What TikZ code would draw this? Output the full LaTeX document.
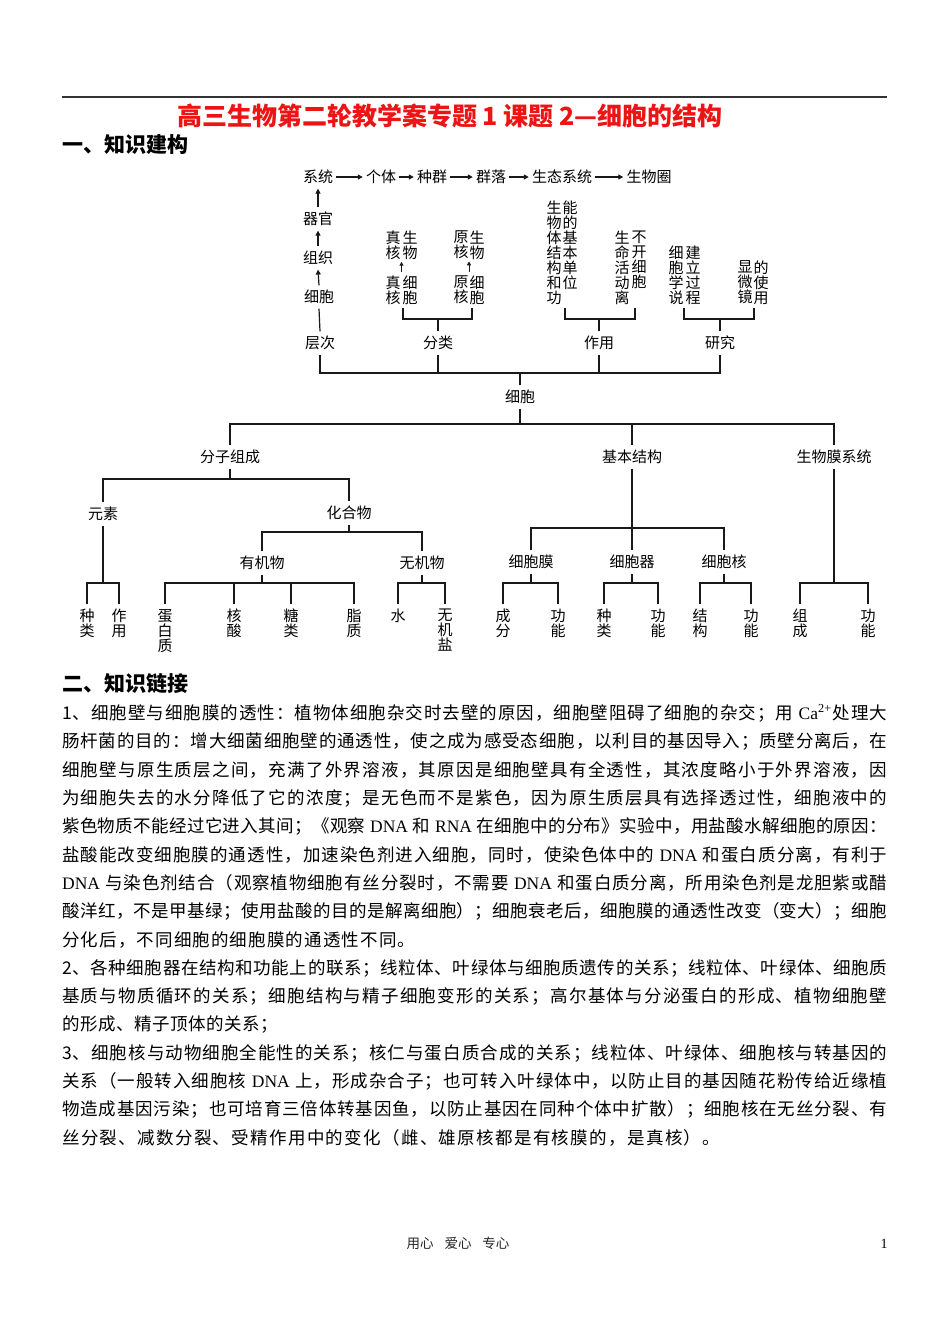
\documentclass[tikz,border=0pt]{standalone}
\usepackage{fontspec}
\setmainfont{Noto Sans CJK SC}
\newfontfamily\lser{Liberation Serif}
\usetikzlibrary{arrows.meta,calc}
\hbadness=10000
\definecolor{titlered}{RGB}{236,20,20}
\newcommand\dgfont{\fontsize{15}{15}\selectfont\lineskiplimit=-10pt\lineskip=0pt\relax}
\newcommand\bdfont{\fontsize{17.5}{20}\selectfont}
\newcommand\hdfont{\fontsize{21}{24}\selectfont\bfseries}
\newcommand\lat[1]{{\lser #1}}
\makeatletter
\newcommand\spreadto[2]{\hbox to #1{\@tfor\sp@x:=#2\do{\sp@x\hskip 0pt plus 1fil}\unskip}}
\makeatother
\newcommand\fullline[1]{\spreadto{825pt}{#1}}
\tikzset{
  lbl/.style={inner xsep=3pt, inner ysep=4.5pt, font=\dgfont},
  tcol/.style={inner sep=0pt, anchor=north, align=center, font=\dgfont},
  leaf/.style={inner xsep=0pt, inner ysep=5pt, anchor=north, align=center, font=\dgfont},
  conn/.style={line width=1.2pt, draw=black!90},
  arr/.style={conn, -{Triangle[length=5pt, width=5pt]}},
  sarr/.style={conn, line width=1pt, -{Triangle[length=4pt, width=4pt]}},
  body/.style={anchor=west, inner sep=0pt, font=\bdfont},
  head/.style={anchor=west, inner sep=0pt, font=\hdfont},
}
\begin{document}
\begin{tikzpicture}[x=1pt,y=-1pt]
\fill[white] (0,0) rectangle (950,1342);
\useasboundingbox (0,0) rectangle (950,1342);
% top rule and title
\draw[line width=1.6pt, draw=black!80] (62,97) -- (887,97);
\node[inner sep=0pt, font=\fontsize{25}{28}\selectfont\bfseries, text=titlered] (title) at (450,116) {高三生物第二轮教学案专题 1 课题 2—细胞的结构};
\node[head] (h1) at (62,145) {一、知识建构};

% ---- upper chain ----
\node[lbl] (xitong) at (318,177) {系统};
\node[lbl] (geti) at (381,177) {个体};
\node[lbl] (zhongqun) at (432,177) {种群};
\node[lbl] (qunluo) at (491,177) {群落};
\node[lbl] (shengtai) at (562,177) {生态系统};
\node[lbl] (shengwuquan) at (649,177) {生物圈};
\draw[arr] (xitong) -- (geti);
\draw[arr] (geti) -- (zhongqun);
\draw[arr] (zhongqun) -- (qunluo);
\draw[arr] (qunluo) -- (shengtai);
\draw[arr] (shengtai) -- (shengwuquan);

\node[lbl] (qiguan) at (318,219) {器官};
\node[lbl] (zuzhi) at (318,258) {组织};
\node[lbl] (xb0) at (319,297) {细胞};
\draw[arr] (qiguan.north) -- (xitong.south);
\draw[arr] (zuzhi.north) -- (qiguan.south);
\draw[arr] (xb0.north) -- (zuzhi.south);
\node[lbl] (cengci) at (320,343) {层次};
\draw[conn] (xb0.south) -- (cengci.north);

% classification blocks
\node[tcol] (zs1) at (393,230.5) {真\\核};
\node[tcol] (zs2) at (410,230.5) {生\\物};
\node[tcol] (zx1) at (393,275.5) {真\\核};
\node[tcol] (zx2) at (410,275.5) {细\\胞};
\node[tcol] (ys1) at (461,230.5) {原\\核};
\node[tcol] (ys2) at (477,230.5) {生\\物};
\node[tcol] (yx1) at (461,275.5) {原\\核};
\node[tcol] (yx2) at (477,275.5) {细\\胞};
\draw[sarr] ($(zx1.north)!.5!(zx2.north)+(0,-4)$) -- ($(zs1.south)!.5!(zs2.south)+(0,2)$);
\draw[sarr] ($(yx1.north)!.5!(yx2.north)+(0,-4)$) -- ($(ys1.south)!.5!(ys2.south)+(0,2)$);

\node[tcol] (sw1) at (554,200.5) {生\\物\\体\\结\\构\\和\\功};
\node[tcol] (sw2) at (570,200.5) {能\\的\\基\\本\\单\\位};
\node[tcol] (sm1) at (622,230.5) {生\\命\\活\\动\\离};
\node[tcol] (sm2) at (639,230.5) {不\\开\\细\\胞};
\node[tcol] (xs1) at (676,245.5) {细\\胞\\学\\说};
\node[tcol] (xs2) at (693,245.5) {建\\立\\过\\程};
\node[tcol] (xw1) at (745,260.5) {显\\微\\镜};
\node[tcol] (xw2) at (761,260.5) {的\\使\\用};

\node[lbl] (fenlei) at (438,343) {分类};
\node[lbl] (zuoyong) at (599,343) {作用};
\node[lbl] (yanjiu) at (720,343) {研究};

\coordinate (bzl) at (403,308); \coordinate (bzr) at (472,308);
\coordinate (bwl) at (565,308); \coordinate (bwr) at (635,308);
\coordinate (byl) at (684,308); \coordinate (byr) at (754,308);
\coordinate (bk) at (0,319);
\draw[conn] (bzl) -- (bzl |- bk) -- (bzr |- bk) -- (bzr);
\draw[conn] (fenlei.north) -- (fenlei.north |- bk);
\draw[conn] (bwl) -- (bwl |- bk) -- (bwr |- bk) -- (bwr);
\draw[conn] (zuoyong.north) -- (zuoyong.north |- bk);
\draw[conn] (byl) -- (byl |- bk) -- (byr |- bk) -- (byr);
\draw[conn] (yanjiu.north) -- (yanjiu.north |- bk);

% ---- cell ----
\node[lbl] (cell) at (520,397) {细胞};
\coordinate (b0) at (0,373);
\draw[conn] (cengci.south) -- (cengci.south |- b0) -- (yanjiu.south |- b0) -- (yanjiu.south);
\draw[conn] (fenlei.south) -- (fenlei.south |- b0);
\draw[conn] (zuoyong.south) -- (zuoyong.south |- b0);
\draw[conn] (cell.north) -- (cell.north |- b0);

\node[lbl] (fzzc) at (230,457) {分子组成};
\node[lbl] (jbjg) at (632,457) {基本结构};
\node[lbl] (swmxt) at (834,457) {生物膜系统};
\coordinate (b1) at (0,424);
\draw[conn] (fzzc.north) -- (fzzc.north |- b1) -- (swmxt.north |- b1) -- (swmxt.north);
\draw[conn] (jbjg.north) -- (jbjg.north |- b1);
\draw[conn] (cell.south) -- (cell.south |- b1);

% molecular composition
\node[lbl] (yuansu) at (103,514) {元素};
\node[lbl] (hhw) at (349,513) {化合物};
\coordinate (b2) at (0,479);
\draw[conn] (yuansu.north) -- (yuansu.north |- b2) -- (hhw.north |- b2) -- (hhw.north);
\draw[conn] (fzzc.south) -- (fzzc.south |- b2);

\node[leaf] (ys_zl) at (87,604) {种\\类};
\node[leaf] (ys_zy) at (119,604) {作\\用};
\coordinate (b3) at (0,583);
\draw[conn] (ys_zl.north) -- (ys_zl.north |- b3) -- (ys_zy.north |- b3) -- (ys_zy.north);
\draw[conn] (yuansu.south) -- (yuansu.south |- b3);

\node[lbl] (yjw) at (262,563) {有机物};
\node[lbl] (wjw) at (422,563) {无机物};
\coordinate (b4) at (0,532);
\draw[conn] (yjw.north) -- (yjw.north |- b4) -- (wjw.north |- b4) -- (wjw.north);
\draw[conn] (hhw.south) -- (hhw.south |- b4);

\node[leaf] (dbz) at (165,604) {蛋\\白\\质};
\node[leaf] (hs) at (234,604) {核\\酸};
\node[leaf] (tl) at (291,604) {糖\\类};
\node[leaf] (zz) at (354,604) {脂\\质};
\draw[conn] (dbz.north) -- (dbz.north |- b3) -- (zz.north |- b3) -- (zz.north);
\draw[conn] (hs.north) -- (hs.north |- b3);
\draw[conn] (tl.north) -- (tl.north |- b3);
\draw[conn] (yjw.south) -- (yjw.south |- b3);

\node[leaf] (shui) at (398,604) {水};
\node[leaf] (wjy) at (445,604) {无\\机\\盐};
\draw[conn] (shui.north) -- (shui.north |- b3) -- (wjy.north |- b3) -- (wjy.north);
\draw[conn] (wjw.south) -- (wjw.south |- b3);

% basic structure
\node[lbl] (xbm) at (531,562) {细胞膜};
\node[lbl] (xbq) at (632,562) {细胞器};
\node[lbl] (xbh) at (724,562) {细胞核};
\coordinate (b5) at (0,528);
\draw[conn] (xbm.north) -- (xbm.north |- b5) -- (xbh.north |- b5) -- (xbh.north);
\draw[conn] (xbq.north) -- (xbq.north |- b5);
\draw[conn] (jbjg.south) -- (jbjg.south |- b5);

\node[leaf] (m_cf) at (503,604) {成\\分};
\node[leaf] (m_gn) at (558,604) {功\\能};
\draw[conn] (m_cf.north) -- (m_cf.north |- b3) -- (m_gn.north |- b3) -- (m_gn.north);
\draw[conn] (xbm.south) -- (xbm.south |- b3);

\node[leaf] (q_zl) at (604,604) {种\\类};
\node[leaf] (q_gn) at (658,604) {功\\能};
\draw[conn] (q_zl.north) -- (q_zl.north |- b3) -- (q_gn.north |- b3) -- (q_gn.north);
\draw[conn] (xbq.south) -- (xbq.south |- b3);

\node[leaf] (h_jg) at (700,604) {结\\构};
\node[leaf] (h_gn) at (751,604) {功\\能};
\draw[conn] (h_jg.north) -- (h_jg.north |- b3) -- (h_gn.north |- b3) -- (h_gn.north);
\draw[conn] (xbh.south) -- (xbh.south |- b3);

\node[leaf] (s_zc) at (800,604) {组\\成};
\node[leaf] (s_gn) at (868,604) {功\\能};
\draw[conn] (s_zc.north) -- (s_zc.north |- b3) -- (s_gn.north |- b3) -- (s_gn.north);
\draw[conn] (swmxt.south) -- (swmxt.south |- b3);

% ---- text part ----
\node[head] (h2) at (62,684) {二、知识链接};
\node[body] (l1) at (62,713) {\fullline{1、细胞壁与细胞膜的透性：植物体细胞杂交时去壁的原因，细胞壁阻碍了细胞的杂交；用{\lat{~Ca}\textsuperscript{\lat{2+}}}处理大}};
\node[body] (l2) at (62,741.3) {\fullline{肠杆菌的目的：增大细菌细胞壁的通透性，使之成为感受态细胞，以利目的基因导入；质壁分离后，在}};
\node[body] (l3) at (62,769.7) {\fullline{细胞壁与原生质层之间，充满了外界溶液，其原因是细胞壁具有全透性，其浓度略小于外界溶液，因}};
\node[body] (l4) at (62,798) {\fullline{为细胞失去的水分降低了它的浓度；是无色而不是紫色，因为原生质层具有选择透过性，细胞液中的}};
\node[body] (l5) at (62,826.3) {\fullline{紫色物质不能经过它进入其间；《观察{\lat{~DNA~}}和{\lat{~RNA~}}在细胞中的分布》实验中，用盐酸水解细胞的原因：}};
\node[body] (l6) at (62,854.7) {\fullline{盐酸能改变细胞膜的通透性，加速染色剂进入细胞，同时，使染色体中的{\lat{~DNA~}}和蛋白质分离，有利于}};
\node[body] (l7) at (62,883) {\fullline{{\lat{DNA~}}与染色剂结合（观察植物细胞有丝分裂时，不需要{\lat{~DNA~}}和蛋白质分离，所用染色剂是龙胆紫或醋}};
\node[body] (l8) at (62,911.3) {\fullline{酸洋红，不是甲基绿；使用盐酸的目的是解离细胞）；细胞衰老后，细胞膜的通透性改变（变大）；细胞}};
\node[body] (l9) at (62,939.7) {\spreadto{353pt}{分化后，不同细胞的细胞膜的通透性不同。}};
\node[body] (l10) at (62,968) {\fullline{2、各种细胞器在结构和功能上的联系；线粒体、叶绿体与细胞质遗传的关系；线粒体、叶绿体、细胞质}};
\node[body] (l11) at (62,996.3) {\fullline{基质与物质循环的关系；细胞结构与精子细胞变形的关系；高尔基体与分泌蛋白的形成、植物细胞壁}};
\node[body] (l12) at (62,1024.7) {\spreadto{216pt}{的形成、精子顶体的关系；}};
\node[body] (l13) at (62,1053) {\fullline{3、细胞核与动物细胞全能性的关系；核仁与蛋白质合成的关系；线粒体、叶绿体、细胞核与转基因的}};
\node[body] (l14) at (62,1081.3) {\fullline{关系（一般转入细胞核{\lat{~DNA~}}上，形成杂合子；也可转入叶绿体中，以防止目的基因随花粉传给近缘植}};
\node[body] (l15) at (62,1109.7) {\fullline{物造成基因污染；也可培育三倍体转基因鱼，以防止基因在同种个体中扩散）；细胞核在无丝分裂、有}};
\node[body] (l16) at (62,1138) {\spreadto{658pt}{丝分裂、减数分裂、受精作用中的变化（雌、雄原核都是有核膜的，是真核）。}};

% footer
\node[inner sep=0pt, font=\fontsize{13.5}{15}\selectfont, text=black!85] (foot) at (458,1243) {用心\hspace{0.8em}爱心\hspace{0.8em}专心};
\node[inner sep=0pt, font=\fontsize{14}{15}\selectfont\lser] (pg) at (884,1244) {1};
\end{tikzpicture}
\end{document}
